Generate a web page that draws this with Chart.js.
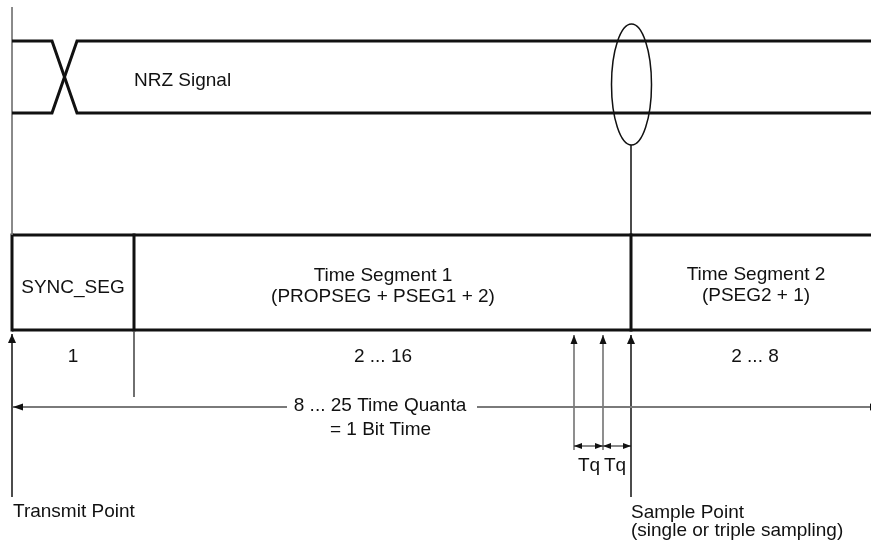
<!DOCTYPE html>
<html>
<head>
<meta charset="utf-8">
<script src="https://cdn.jsdelivr.net/npm/chart.js@4.4.1/dist/chart.umd.min.js"></script>
<style>
  html, body { margin: 0; padding: 0; background: #fff; }
  #wrap { width: 871px; height: 548px; position: relative; }
</style>
</head>
<body>
<div id="wrap"><canvas id="c"></canvas></div>
<script>
// diagram units: x to the right, y downwards (same grid as the original figure)
const levelY = [41, 113];          // NRZ high / low level
const edgeX = [52, 77];            // NRZ transition start / end
const spanX = [12, 871];           // bit start / right border
const boxY = [235, 330];           // segment box top / bottom
const segX = [12, 134, 631];       // SYNC_SEG, TSEG1, TSEG2 start
const segTitles = [['SYNC_SEG'], ['Time Segment 1', '(PROPSEG + PSEG1 + 2)'], ['Time Segment 2', '(PSEG2 + 1)']];
const segTitleX = [73, 383, 756];
const quantaLabels = ['1', '2 ... 16', '2 ... 8'];
const quantaX = [73, 383, 755];
const tqX = [574, 603, 631];       // last two quanta before the sample point
const tqLabels = ['Tq', 'Tq'];
const sampleEllipse = [631.5, 84.5, 20, 60.5]; // cx, cy, rx, ry
const spanLabels = ['8 ... 25 Time Quanta', '= 1 Bit Time'];
const pointLabels = [['Transmit Point'], ['Sample Point', '(single or triple sampling)']];

const black = '#111';
const grey = '#7a7a7a';
const FONT = '19px "Liberation Sans", Arial, Helvetica, sans-serif';

function seg(pts, color, width, extra) {
  return Object.assign({
    data: pts.map(p => ({x: p[0], y: p[1]})),
    showLine: true,
    borderColor: color,
    borderWidth: width,
    borderJoinStyle: 'miter',
    borderCapStyle: 'butt',
    pointRadius: 0,
    pointHoverRadius: 0,
    fill: false,
    tension: 0,
    clip: false
  }, extra || {});
}

const datasets = [
  // NRZ signal with its transition
  seg([[spanX[0], levelY[0]], [edgeX[0], levelY[0]], [edgeX[1], levelY[1]], [spanX[1], levelY[1]]], black, 3),
  seg([[spanX[0], levelY[1]], [edgeX[0], levelY[1]], [edgeX[1], levelY[0]], [spanX[1], levelY[0]]], black, 3),
  // left guide
  seg([[spanX[0], 7], [spanX[0], boxY[0]]], grey, 1),
  // segment box
  seg([[spanX[0], boxY[0]], [spanX[1], boxY[0]]], black, 3),
  seg([[spanX[0], boxY[1]], [spanX[1], boxY[1]]], black, 3),
  ...segX.map(x => seg([[x, boxY[0] - 1.5], [x, boxY[1] + 1.5]], black, 3)),
  // sample point line from the ellipse
  seg([[tqX[2], sampleEllipse[1] + sampleEllipse[3]], [tqX[2], boxY[0]]], black, 1.5),
  // SYNC_SEG end marker
  seg([[segX[1], boxY[1] + 2], [segX[1], 397]], black, 1.2),
  // bit time span
  seg([[287, 407], [spanX[0] + 1, 407]], grey, 2, {arrowHead: 'end', headLen: 10, headHalf: 3.5, headColor: black}),
  seg([[477, 407], [spanX[1] + 9, 407]], grey, 2, {arrowHead: 'end', headLen: 10, headHalf: 3.5, headColor: black}),
  // transmit point arrow
  seg([[spanX[0], 497], [spanX[0], 334]], black, 1.5, {arrowHead: 'end', headLen: 9, headHalf: 4}),
  // quanta arrows
  seg([[tqX[0], 450], [tqX[0], 335]], '#444', 1.2, {arrowHead: 'end', headLen: 9, headHalf: 3.5, headColor: black}),
  seg([[tqX[1], 450], [tqX[1], 335]], '#444', 1.2, {arrowHead: 'end', headLen: 9, headHalf: 3.5, headColor: black}),
  seg([[tqX[2], 497], [tqX[2], 335]], black, 1.5, {arrowHead: 'end', headLen: 9, headHalf: 4}),
  // Tq dimensions
  seg([[tqX[0], 446], [tqX[1], 446]], black, 1, {arrowHead: 'both', headLen: 8, headHalf: 3}),
  seg([[tqX[1], 446], [tqX[2], 446]], black, 1, {arrowHead: 'both', headLen: 8, headHalf: 3})
];

// text: [text, x, baseline, align]
const texts = [
  ['NRZ Signal', 134, 86, 'left'],
  [segTitles[0][0], segTitleX[0], 293, 'center'],
  [segTitles[1][0], segTitleX[1], 281, 'center'],
  [segTitles[1][1], segTitleX[1], 302, 'center'],
  [segTitles[2][0], segTitleX[2], 280, 'center'],
  [segTitles[2][1], segTitleX[2], 301, 'center'],
  ...quantaLabels.map((t, i) => [t, quantaX[i], 362, 'center']),
  [spanLabels[0], 380, 411, 'center'],
  [spanLabels[1], 380.5, 435, 'center'],
  [tqLabels[0], (tqX[0] + tqX[1]) / 2 + 0.5, 471, 'center'],
  [tqLabels[1], (tqX[1] + tqX[2]) / 2 - 2, 471, 'center'],
  [pointLabels[0][0], 13, 517, 'left'],
  [pointLabels[1][0], 631, 518, 'left'],
  [pointLabels[1][1], 631, 536, 'left']
];

const diagramPlugin = {
  id: 'diagram',
  afterDatasetsDraw(chart) {
    const ctx = chart.ctx;
    const sx = chart.scales.x, sy = chart.scales.y;
    ctx.save();

    // arrow heads on dataset ends
    chart.data.datasets.forEach((ds, i) => {
      if (!ds.arrowHead) return;
      const pts = chart.getDatasetMeta(i).data;
      const heads = [];
      const n = pts.length;
      heads.push([pts[n - 1], pts[n - 2]]);
      if (ds.arrowHead === 'both') heads.push([pts[0], pts[1]]);
      ctx.fillStyle = ds.headColor || ds.borderColor;
      heads.forEach(([tip, from]) => {
        const a = Math.atan2(tip.y - from.y, tip.x - from.x);
        const L = ds.headLen, H = ds.headHalf;
        ctx.beginPath();
        ctx.moveTo(tip.x, tip.y);
        ctx.lineTo(tip.x - L * Math.cos(a) + H * Math.sin(a), tip.y - L * Math.sin(a) - H * Math.cos(a));
        ctx.lineTo(tip.x - L * Math.cos(a) - H * Math.sin(a), tip.y - L * Math.sin(a) + H * Math.cos(a));
        ctx.closePath();
        ctx.fill();
      });
    });

    // sample point ellipse
    const [cx, cy, rx, ry] = sampleEllipse;
    const px = sx.getPixelForValue(cx), py = sy.getPixelForValue(cy);
    ctx.beginPath();
    ctx.ellipse(px, py, Math.abs(sx.getPixelForValue(cx + rx) - px), Math.abs(sy.getPixelForValue(cy + ry) - py), 0, 0, Math.PI * 2);
    ctx.strokeStyle = black;
    ctx.lineWidth = 1.5;
    ctx.stroke();

    // labels
    ctx.font = FONT;
    ctx.fillStyle = black;
    ctx.textBaseline = 'alphabetic';
    texts.forEach(([t, x, y, align]) => {
      ctx.textAlign = align;
      ctx.fillText(t, sx.getPixelForValue(x), sy.getPixelForValue(y));
    });
    ctx.restore();
  }
};

new Chart(document.getElementById('c'), {
  type: 'scatter',
  data: { datasets },
  options: {
    responsive: true,
    maintainAspectRatio: false,
    animation: false,
    events: [],
    layout: { padding: 0 },
    plugins: { legend: { display: false }, tooltip: { enabled: false } },
    scales: {
      x: { type: 'linear', min: 0, max: 871, display: false },
      y: { type: 'linear', min: 0, max: 548, reverse: true, display: false }
    }
  },
  plugins: [diagramPlugin]
});
</script>
</body>
</html>
